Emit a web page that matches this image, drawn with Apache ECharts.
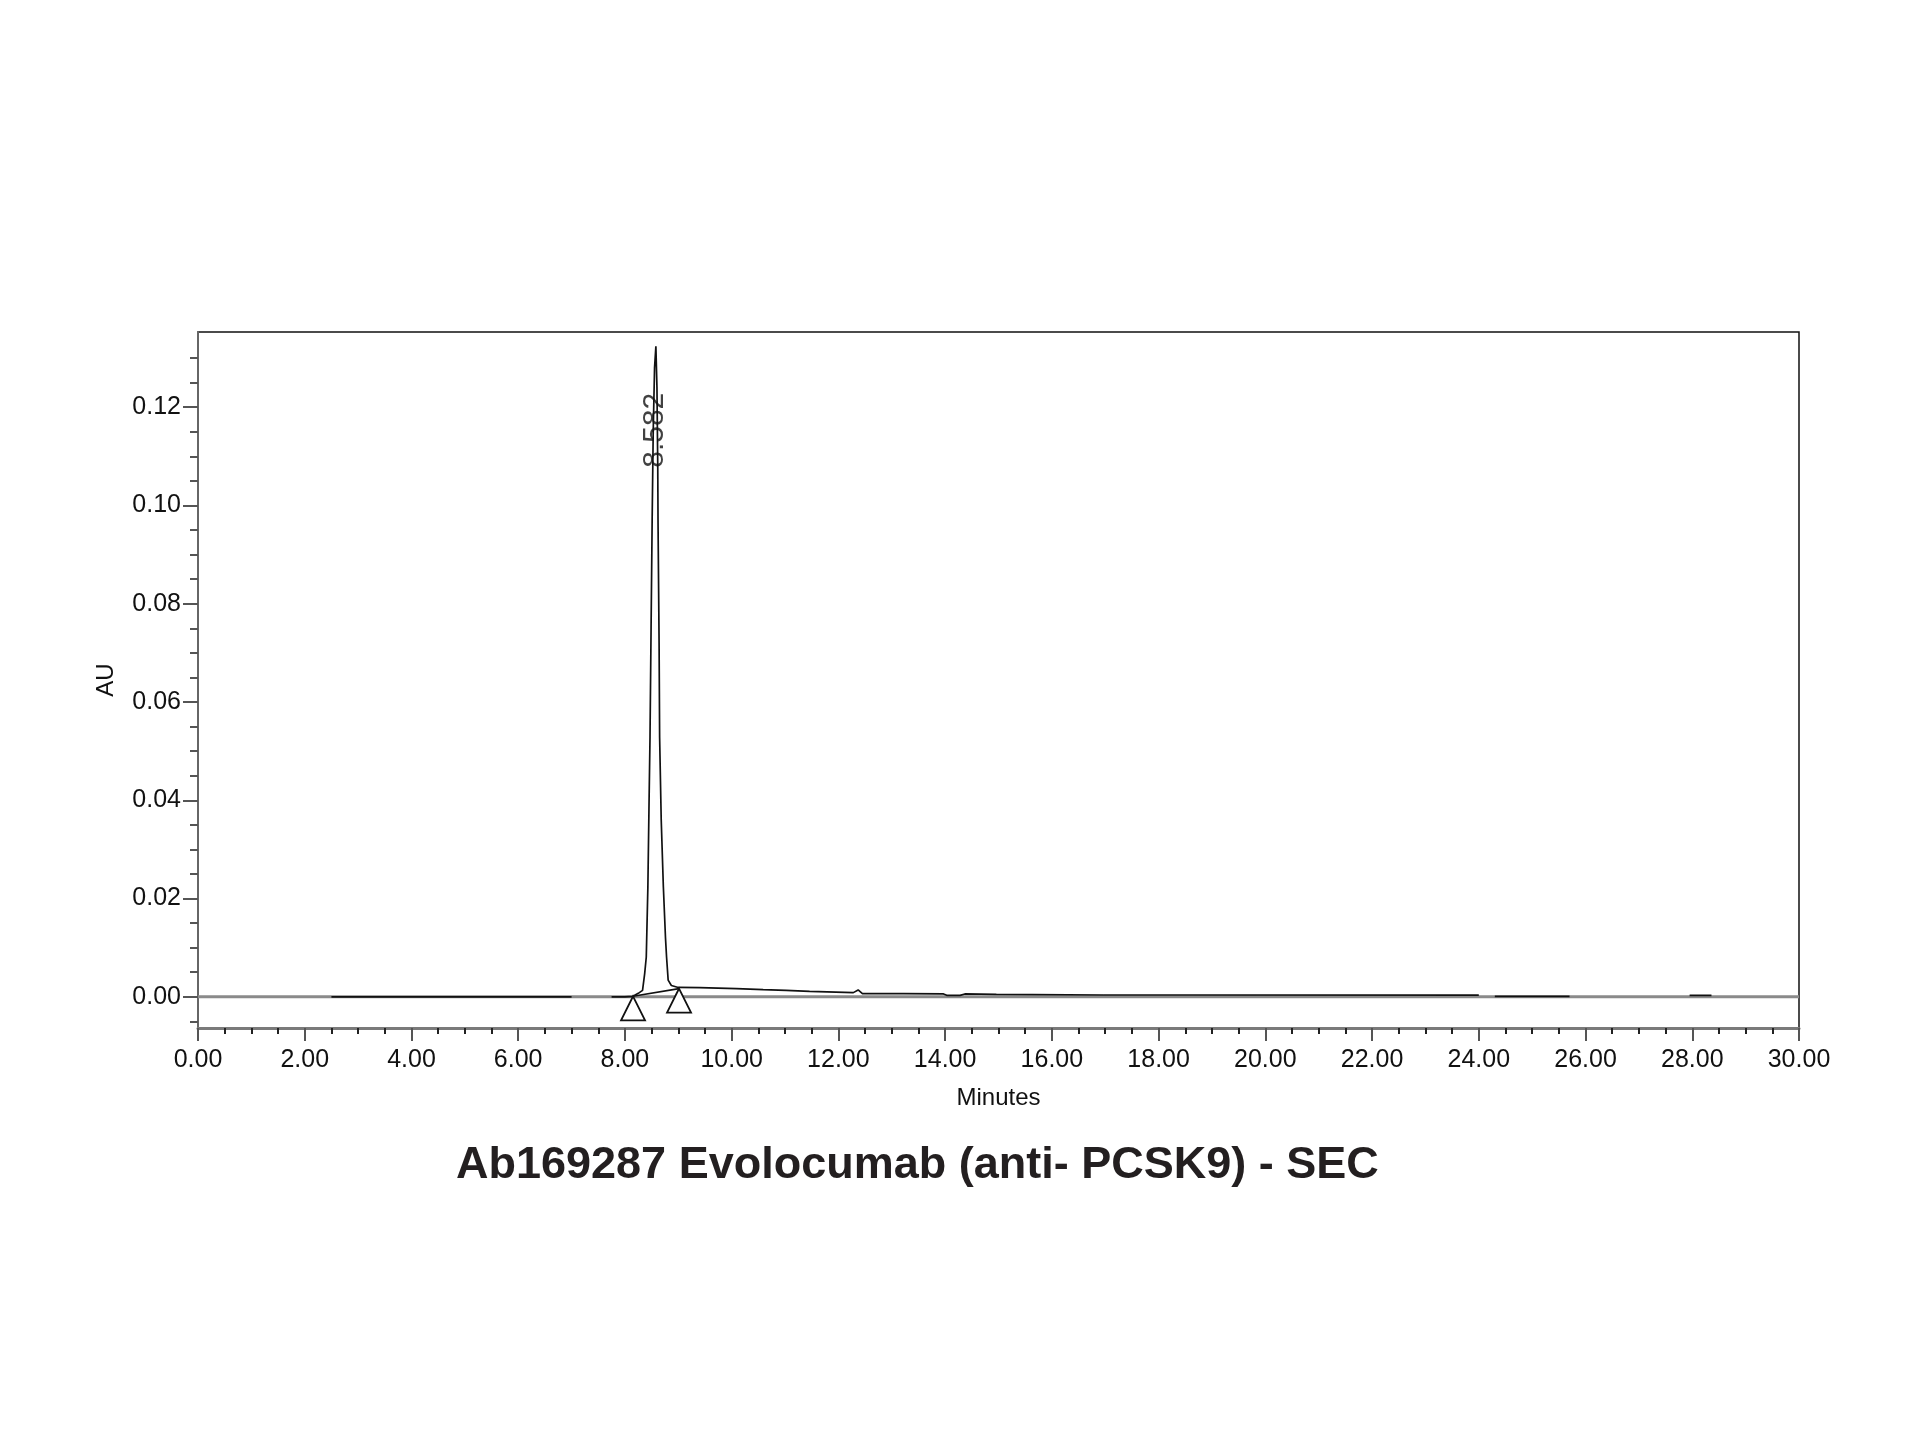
<!DOCTYPE html>
<html>
<head>
<meta charset="utf-8">
<style>
html,body{margin:0;padding:0;background:#fff;}
#chart{width:1920px;height:1440px;}
</style>
<script src="https://cdn.jsdelivr.net/npm/echarts@6/dist/echarts.min.js"></script>
</head>
<body>
<div id="chart"></div>
<script>
// ---- Data ----
const chartTitle = 'Ab169287 Evolocumab (anti- PCSK9) - SEC';
const xAxisName = 'Minutes';
const yAxisName = 'AU';
const yTickValues = [0.00, 0.02, 0.04, 0.06, 0.08, 0.10, 0.12];
const yMinorTickValues = [-0.005, 0.005, 0.010, 0.015, 0.025, 0.030, 0.035, 0.045, 0.050, 0.055, 0.065, 0.070, 0.075, 0.085, 0.090, 0.095, 0.105, 0.110, 0.115, 0.125, 0.130];

// Detector trace: retention time (min) and absorbance (AU); null = gap in the drawn trace
const traceTime = [2.5, 3.0, 4.0, 5.0, 6.0, 7.0, 7.1,
  7.75, 8.0, 8.15, 8.25, 8.33, 8.37, 8.40, 8.43, 8.45, 8.47, 8.49, 8.51, 8.53, 8.555, 8.58,
  8.60, 8.615, 8.62, 8.64, 8.65, 8.68, 8.72, 8.76, 8.78, 8.81, 8.87, 9.0,
  9.03, 9.40, 9.41, 10.09, 10.10, 10.59, 10.60, 11.02, 11.03, 11.46, 11.47, 12.28, 12.37, 12.45, 12.53,
  13.22, 13.97, 14.03, 14.28, 14.37, 14.96, 16.96, 18.40, 24.0, 24.1,
  24.3, 24.6, 25.0, 25.4, 25.7, 25.8,
  27.95, 28.36];
const traceAU = [0, 0, 0, 0, 0, 0, null,
  0, 0, 0.0001, 0.0007, 0.0013, 0.0047, 0.0081, 0.0224, 0.038, 0.0529, 0.075, 0.097, 0.115, 0.128, 0.1324,
  0.124, 0.108, 0.097, 0.072, 0.0529, 0.036, 0.0224, 0.012, 0.0081, 0.0034, 0.0023, 0.0019,
  0.00187, 0.00187, 0.00166, 0.00166, 0.00146, 0.00146, 0.00132, 0.00132, 0.00112, 0.00112, 0.00085, 0.00085, 0.00139, 0.00065, 0.00065,
  0.00065, 0.00058, 0.0003, 0.0003, 0.00058, 0.0005, 0.00037, 0.00037, 0.00035, null,
  0.0001, 0.0001, 0.0001, 0.0001, 0.0001, null,
  0.0003, 0.0003];

// Integration baseline start / end markers
const baselineTime = [8.152, 9.014];
const baselineAU = [0.0001, 0.00167];

// Peak apex annotation
const peakTime = [8.582];
const peakAU = [0.1324];
const peakText = ['8.582'];

// ---- Build series data ----
const traceData = traceTime.map((t, i) => [t, traceAU[i]]);
const baselineData = baselineTime.map((t, i) => [t, baselineAU[i]]);
const peakData = peakTime.map((t, i) => ({ value: [t, peakAU[i]], name: peakText[i] }));

const FONT = "'Liberation Sans', Arial, Helvetica, sans-serif";
const Y_MIN = -0.00635, Y_MAX = 0.1353;

const chart = echarts.init(document.getElementById('chart'), null, { renderer: 'canvas' });
chart.setOption({
  animation: false,
  backgroundColor: '#ffffff',
  title: {
    text: chartTitle,
    left: 451,
    top: 1138,
    textStyle: { fontFamily: FONT, fontSize: 45, fontWeight: 'bold', color: '#231f20' }
  },
  grid: {
    left: 198, top: 332, width: 1601, height: 696,
    show: true, borderColor: '#111', borderWidth: 1.5, backgroundColor: 'transparent'
  },
  xAxis: {
    type: 'value', min: 0, max: 30, interval: 2,
    name: xAxisName, nameLocation: 'middle', nameGap: 58,
    nameTextStyle: { fontFamily: FONT, fontSize: 24, color: '#111' },
    axisLine: { show: true, onZero: false, lineStyle: { color: '#7a7a7a', width: 3 } },
    axisTick: { show: true, length: 13, lineStyle: { color: '#555', width: 2 } },
    minorTick: { show: true, splitNumber: 4, length: 6, lineStyle: { color: '#222', width: 2 } },
    axisLabel: { fontFamily: FONT, fontSize: 25, color: '#111', margin: 20,
      formatter: v => v.toFixed(2) },
    splitLine: { show: false }
  },
  yAxis: [{
    type: 'value', min: Y_MIN, max: Y_MAX,
    name: yAxisName, nameLocation: 'middle', nameGap: 80, nameRotate: 90,
    nameTextStyle: { fontFamily: FONT, fontSize: 24, color: '#111' },
    axisLine: { show: true, onZero: false, lineStyle: { color: '#666', width: 2 } },
    axisTick: { show: true, length: 15, customValues: yTickValues, lineStyle: { color: '#555', width: 2 } },
    axisLabel: { fontFamily: FONT, fontSize: 25, color: '#111', margin: 17,
      customValues: yTickValues, formatter: v => v.toFixed(2) },
    splitLine: { show: false }
  }, {
    type: 'value', min: Y_MIN, max: Y_MAX, position: 'left', offset: 0,
    axisLine: { show: false },
    axisTick: { show: true, length: 8, customValues: yMinorTickValues, lineStyle: { color: '#555', width: 2 } },
    axisLabel: { show: false },
    splitLine: { show: false }
  }],
  series: [
    {
      type: 'line', name: 'zero', data: [[0, 0], [30, 0]],
      symbol: 'none', z: 1, silent: true,
      lineStyle: { color: '#8a8a8a', width: 3 }
    },
    {
      type: 'line', name: 'trace', data: traceData, connectNulls: false,
      symbol: 'none', z: 3, silent: true,
      lineStyle: { color: '#111', width: 1.7 }
    },
    {
      type: 'line', name: 'baseline', data: baselineData,
      symbol: 'triangle', symbolSize: [24, 24], symbolOffset: [0, '50%'], showSymbol: true,
      z: 4, silent: true,
      itemStyle: { color: '#ffffff', borderColor: '#111', borderWidth: 1.8 },
      lineStyle: { color: '#111', width: 1.6 }
    },
    {
      type: 'scatter', name: 'peak', data: peakData,
      symbolSize: 0, z: 5, silent: true,
      label: {
        show: true, position: 'inside', rotate: 90, offset: [-84, -1.5],
        formatter: p => p.name,
        fontFamily: FONT, fontSize: 30, color: '#111'
      }
    }
  ]
});
</script>
</body>
</html>
